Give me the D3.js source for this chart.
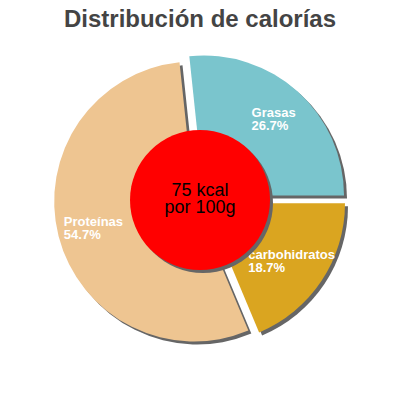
<!DOCTYPE html>
<html>
<head>
<meta charset="utf-8">
<script src="https://cdn.jsdelivr.net/npm/d3@7"></script>
<style>
  body { margin: 0; background: #fff; }
  svg { display: block; font-family: "Liberation Sans", Arial, sans-serif; }
</style>
</head>
<body>
<div id="chart"></div>
<script>
const labels = ["carbohidratos", "Proteínas", "Grasas"]
const percents = [18.7, 54.7, 26.7]
const colors = ["#DAA520", "#EEC591", "#7AC5CD"]
const title = "Distribución de calorías"
const centerText = ["75 kcal", "por 100g"]

const width = 400
const height = 400
const cx = 200, cy = 200
const radius = 140
const explode = 6
const shadow = 3

const data = labels.map((l, i) => ({ label: l, value: percents[i], color: colors[i] }))

// starts at 3 o'clock, clockwise
const pie = d3.pie()
    .value(d => d.value)
    .sort(null)
    .startAngle(Math.PI / 2)
    .endAngle(Math.PI / 2 + 2 * Math.PI)

const arcs = pie(data)
const arc = d3.arc().innerRadius(0).outerRadius(radius)
const labelArc = d3.arc().innerRadius(104).outerRadius(104)

const offset = d => {
    const a = (d.startAngle + d.endAngle) / 2
    return [explode * Math.sin(a), -explode * Math.cos(a)]
}

const svg = d3.select("#chart")
    .append("svg")
    .attr("width", width)
    .attr("height", height)

svg.append("text")
    .attr("x", width / 2)
    .attr("y", 27)
    .attr("text-anchor", "middle")
    .style("font-size", "24px")
    .style("font-weight", "bold")
    .style("fill", "#444")
    .text(title)

const g = svg.append("g").attr("transform", `translate(${cx},${cy})`)

// shadows
g.selectAll("path.shadow")
    .data(arcs)
    .join("path")
    .attr("class", "shadow")
    .attr("d", arc)
    .attr("transform", d => { const o = offset(d); return `translate(${o[0] + shadow},${o[1] + shadow})` })
    .style("fill", "#666")

g.selectAll("path.slice")
    .data(arcs)
    .join("path")
    .attr("class", "slice")
    .attr("d", arc)
    .attr("transform", d => { const o = offset(d); return `translate(${o[0]},${o[1]})` })
    .style("fill", d => d.data.color)

// labels
const lab = g.selectAll("g.lab")
    .data(arcs)
    .join("g")
    .attr("class", "lab")

lab.each(function (d) {
    const o = offset(d)
    const c = labelArc.centroid(d)
    const grp = d3.select(this)
    const t1 = grp.append("text").text(d.data.label)
    const t2 = grp.append("text").text(d.data.value.toFixed(1) + "%")
    grp.selectAll("text")
        .style("font-size", "13px")
        .style("font-weight", "bold")
        .style("fill", "#fff")
    const w = Math.max(t1.node().getComputedTextLength(), t2.node().getComputedTextLength())
    const x = c[0] + o[0] - w / 2
    const y = c[1] + o[1]
    t1.attr("x", x).attr("y", y - 1.5)
    t2.attr("x", x).attr("y", y + 11.5)
})

// center circle
g.append("circle")
    .attr("cx", 3).attr("cy", 3).attr("r", 70)
    .style("fill", "#666")
g.append("circle")
    .attr("r", 70)
    .style("fill", "#FF0000")

g.selectAll("text.center")
    .data(centerText)
    .join("text")
    .attr("class", "center")
    .attr("x", 0)
    .attr("y", (d, i) => -4 + i * 17)
    .attr("text-anchor", "middle")
    .style("font-size", "18px")
    .style("fill", "#000")
    .text(d => d)
</script>
</body>
</html>
